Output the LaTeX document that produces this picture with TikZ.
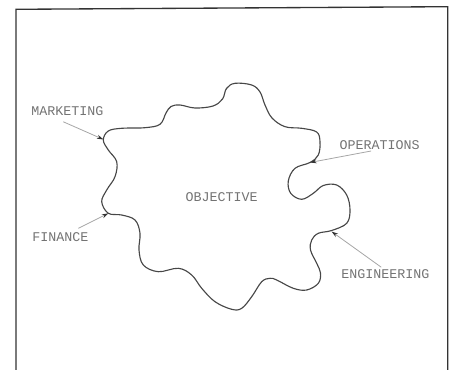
\documentclass[tikz,border=0pt]{standalone}
\usepackage{fontspec}
\setmonofont{Liberation Mono}
\usetikzlibrary{arrows.meta}
\begin{document}
\begin{tikzpicture}[x=0.75pt,y=-0.75pt,
  lbl/.style={font=\ttfamily\fontsize{10}{12}\selectfont, text=black!55, inner sep=0pt},
  blob/.style={draw=black!72, line width=0.85pt},
  pointer/.style={draw=black!35, line width=0.6pt, -{Stealth[length=5pt,width=3pt,black!80]}},
  frame/.style={draw=black!80, line width=1pt}]
\useasboundingbox (0,0) rectangle (452,370);
\draw[frame] (16,370) -- (16,9.3) -- (447.7,6.7) -- (447.7,370);
\draw[blob] plot[smooth cycle, tension=0.6] coordinates {
 (103.3,140) (108.3,131) (121.7,128.3) (145,127.7) (160,124.3) (166,113) (171,106.5) (180,105)
 (195,108) (213,106) (222.5,99) (226.5,88.5) (235,83.3) (251.7,85) (260,92) (265,105)
 (272,118) (285,126.7) (301.7,128.3) (316.7,132) (320,142) (318.3,155) (310,162.5)
 (295,168.3) (288.3,181) (290.7,193.3) (301.7,199.3) (313.3,193.3) (323.3,185.5) (336.7,185)
 (346.7,195) (350,210) (346.7,223.3) (331.7,230.5)
 (318.3,233.3) (311.7,240) (310.5,250) (316.7,263.3) (320.5,273) (318.3,283.3) (306.7,290)
 (293.3,288.3) (276.7,280) (270,278.3) (261.7,281.7) (251.7,296.7) (241.7,308.3) (231.7,309.3)
 (215,301.7) (201.7,288.3) (191.7,275) (178.3,268.3) (158.3,271.7) (143.3,265) (139,250)
 (140,233.3) (135,220) (121.7,215) (108.3,213.3)
 (101.7,201.7) (106.7,190) (115,176.7) (116.7,161.7) (108.3,150)};
\node[lbl] (mkt) at (67.3,111) {MARKETING};
\node[lbl] (ops) at (379.7,145) {OPERATIONS};
\node[lbl] (fin) at (60.3,237.3) {FINANCE};
\node[lbl] (eng) at (385.3,274) {ENGINEERING};
\node[lbl] (obj) at (221.7,196.7) {OBJECTIVE};
\coordinate (pm) at (103.5,139.5);
\coordinate (po) at (310,162.5);
\coordinate (pf) at (108.5,213.3);
\coordinate (pe) at (331.5,231.5);
\draw[pointer] (mkt.south) ++(-4,6) -- (pm);
\draw[pointer] (ops.south west) ++(31.7,1.2) -- (po);
\draw[pointer] (fin.north) ++(18,-4.2) -- (pf);
\draw[pointer] (eng.north west) ++(40.2,-2) -- (pe);
\end{tikzpicture}
\end{document}
